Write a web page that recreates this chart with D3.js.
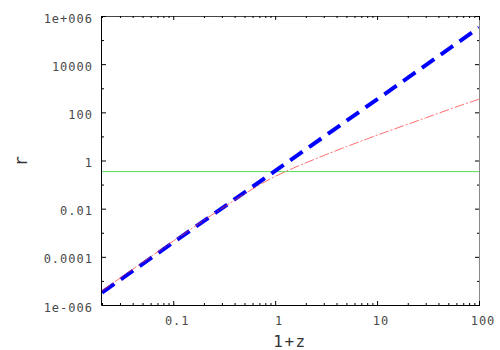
<!DOCTYPE html>
<html><head><meta charset="utf-8">
<script src="https://cdn.jsdelivr.net/npm/d3@7"></script>
<style>body{margin:0;background:#fff}svg{display:block}</style>
</head><body><svg id="c" width="500" height="350"></svg>
<script>
// ---- data ----
const xMajorTicks = [0.1, 1, 10, 100];
const xTickLabels = ["0.1", "1", "10", "100"];
const xMinorTicks = [0.02,0.03,0.04,0.05,0.06,0.07,0.08,0.09,
                     0.2,0.3,0.4,0.5,0.6,0.7,0.8,0.9,
                     2,3,4,5,6,7,8,9,
                     20,30,40,50,60,70,80,90];
const yMajorTicks = [1e6, 1e4, 1e2, 1, 1e-2, 1e-4, 1e-6];
const yTickLabels = ["1e+006", "10000", "100", "1", "0.01", "0.0001", "1e-006"];
const yMinorTicks = [1e5, 1e3, 10, 0.1, 1e-3, 1e-5];
const blueX = [0.02, 0.1, 1, 10, 100];
const blueY = [3.3e-6, 3.95e-4, 0.37, 345, 3.3e5];
const redX = [0.02, 0.05, 0.1, 0.2, 0.3, 0.5, 0.7, 1, 1.5, 2, 3, 5, 7, 10, 20, 30, 50, 70, 100];
const redY = [3.9e-6, 5.9e-5, 4.5e-4, 3.3e-3, 0.0103, 0.041, 0.098, 0.22, 0.48, 0.80, 1.62, 3.75, 6.4, 11.3, 32, 59, 128, 213, 350];
const refX = [0.02, 100];
const refY = [0.356, 0.356];
const xTitle = "1+z";
const yTitle = "r";

// ---- layout ----
const L = 102, R = 479, T = 16, B = 305;
const svg = d3.select("#c");
const x = d3.scaleLog().domain([0.02, 100]).range([L, R]);
const y = d3.scaleLog().domain([1e-6, 1e6]).range([B, T]);
const font = "'DejaVu Sans Mono', monospace";
const textColor = "#4a4a4a";

// frame (top/right gray)
svg.append("line").attr("x1", L).attr("x2", R).attr("y1", T + 0.5).attr("y2", T + 0.5).attr("stroke", "#444");
svg.append("line").attr("x1", R + 0.5).attr("x2", R + 0.5).attr("y1", T).attr("y2", B).attr("stroke", "#888");

function styleAxis(g) {
  g.select(".domain").remove();
  g.selectAll("line").attr("stroke", "#000");
  g.selectAll("text").attr("font-family", font).attr("font-size", 12)
    .attr("letter-spacing", "1px").attr("fill", textColor);
}
// bottom
const gxB = svg.append("g").attr("transform", `translate(0,${B})`)
  .call(d3.axisBottom(x).tickValues(xMajorTicks).tickSize(-4).tickPadding(11)
        .tickFormat((d, i) => xTickLabels[i]));
styleAxis(gxB);
gxB.selectAll("text").attr("dx", "3.5");
svg.append("g").attr("transform", `translate(0,${B})`)
  .call(d3.axisBottom(x).tickValues(xMinorTicks).tickSize(-2).tickFormat("")).call(styleAxis);
// top
svg.append("g").attr("transform", `translate(0,${T})`)
  .call(d3.axisTop(x).tickValues(xMajorTicks).tickSize(-4).tickFormat("")).call(styleAxis);
svg.append("g").attr("transform", `translate(0,${T})`)
  .call(d3.axisTop(x).tickValues(xMinorTicks).tickSize(-2).tickFormat("")).call(styleAxis);
// left
const gyL = svg.append("g").attr("transform", `translate(${L},0)`)
  .call(d3.axisLeft(y).tickValues(yMajorTicks).tickSize(-4).tickPadding(9)
        .tickFormat((d, i) => yTickLabels[i]));
styleAxis(gyL);
gyL.selectAll("text").attr("dy", "0.5em");
svg.append("g").attr("transform", `translate(${L},0)`)
  .call(d3.axisLeft(y).tickValues(yMinorTicks).tickSize(-2).tickFormat("")).call(styleAxis);
// right
svg.append("g").attr("transform", `translate(${R},0)`)
  .call(d3.axisRight(y).tickValues(yMajorTicks).tickSize(-4).tickFormat("")).call(styleAxis);
svg.append("g").attr("transform", `translate(${R},0)`)
  .call(d3.axisRight(y).tickValues(yMinorTicks).tickSize(-2).tickFormat("")).call(styleAxis);

// clip
svg.append("clipPath").attr("id", "clip").append("rect")
  .attr("x", L).attr("y", T).attr("width", R - L).attr("height", B - T);
const plot = svg.append("g").attr("clip-path", "url(#clip)");

const line = d3.line().x(d => x(d[0])).y(d => y(d[1]));
const zip = (a, b) => a.map((v, i) => [v, b[i]]);

plot.append("path").datum(zip(refX, refY)).attr("d", line)
  .attr("fill", "none").attr("stroke", "#55dd55").attr("stroke-width", 1)
  .attr("transform", "translate(0,0.3)");
plot.append("path").datum(zip(blueX, blueY)).attr("d", line)
  .attr("fill", "none").attr("stroke", "#0000ff").attr("stroke-width", 4)
  .attr("stroke-dasharray", "15,8");
plot.append("path").datum(zip(redX, redY)).attr("d", line)
  .attr("fill", "none").attr("stroke", "#ff3333").attr("stroke-opacity", 0.7)
  .attr("stroke-width", 1).attr("stroke-dasharray", "10,2,2,2");

// axis lines left/bottom (black)
svg.append("line").attr("x1", L - 0.5).attr("x2", L - 0.5).attr("y1", T).attr("y2", B + 0.5).attr("stroke", "#000");
svg.append("line").attr("x1", L - 0.5).attr("x2", R + 1).attr("y1", B + 0.5).attr("y2", B + 0.5).attr("stroke", "#000");

// titles
svg.append("text").attr("x", 290).attr("y", 347).attr("text-anchor", "middle")
  .attr("font-family", font).attr("font-size", 16).attr("letter-spacing", "1.5px")
  .attr("fill", "#333").text(xTitle);
svg.append("text").attr("transform", "translate(27,161) rotate(-90)").attr("text-anchor", "middle")
  .attr("font-family", font).attr("font-size", 17).attr("fill", "#333").text(yTitle);
</script></body></html>
